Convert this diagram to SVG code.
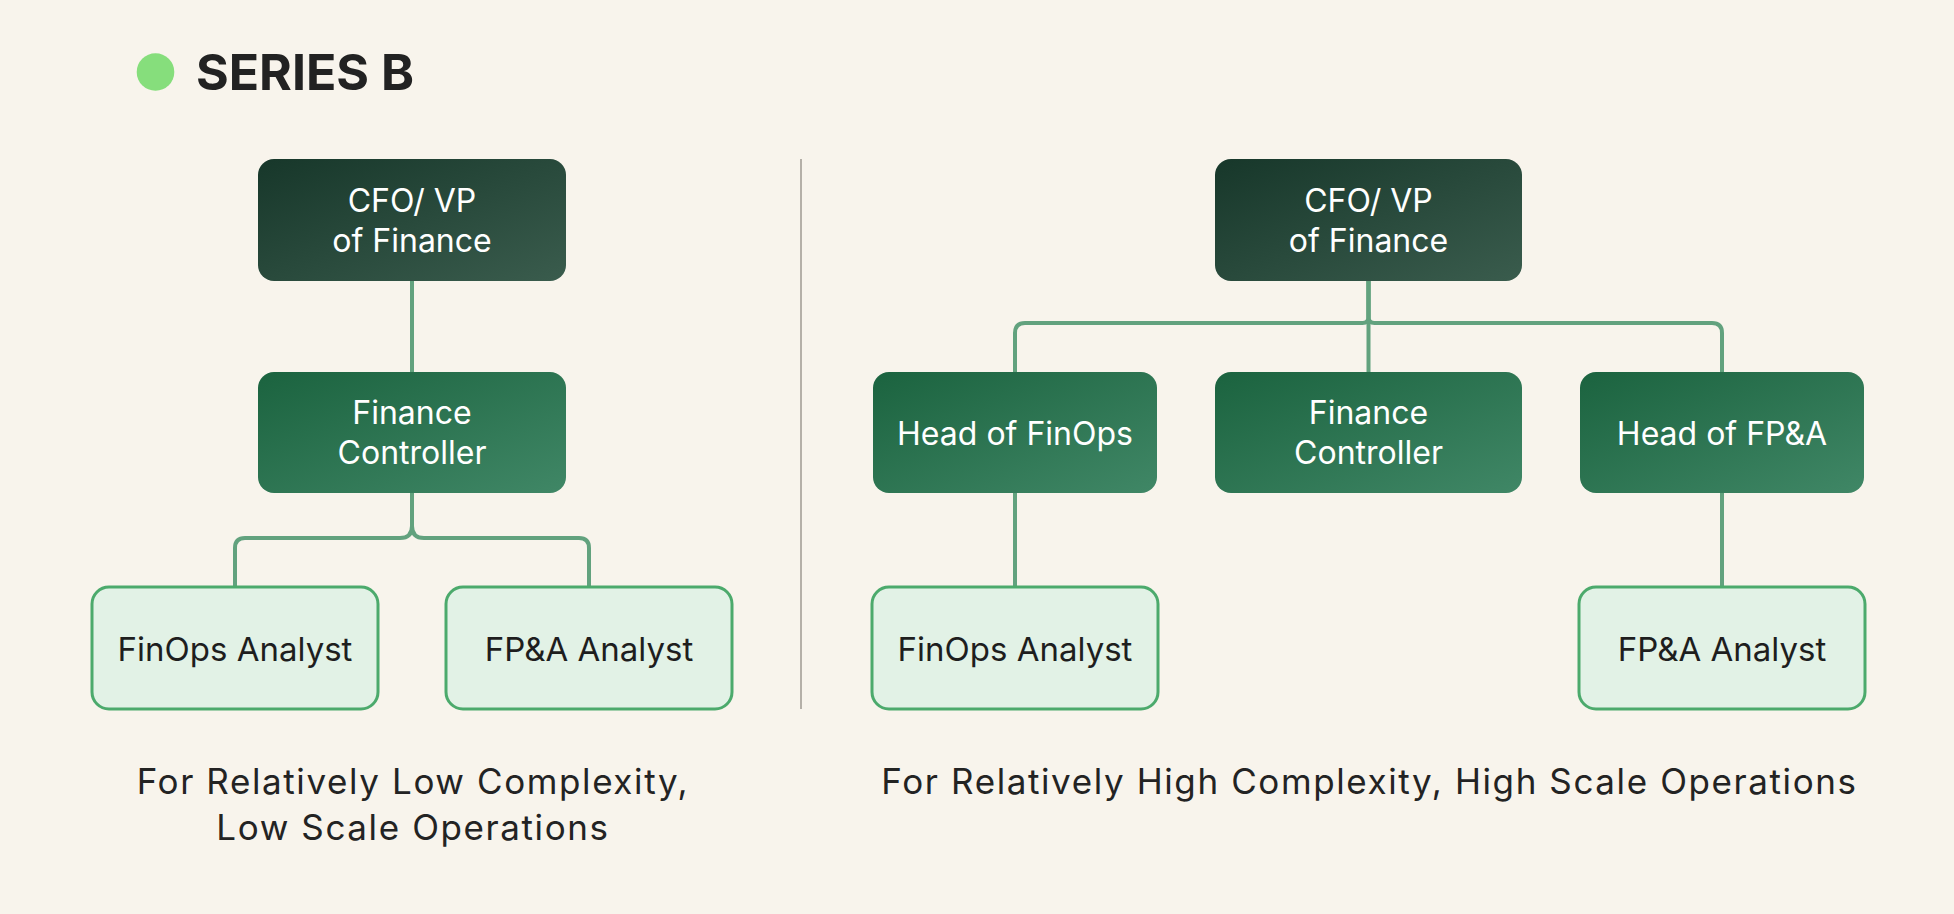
<svg xmlns="http://www.w3.org/2000/svg" width="1954" height="914" viewBox="0 0 1954 914">
  <defs>
    <linearGradient id="gDark" x1="0" y1="0" x2="1" y2="1">
      <stop offset="0" stop-color="#17372a"/>
      <stop offset="1" stop-color="#3a5c4d"/>
    </linearGradient>
    <linearGradient id="gMid" x1="0" y1="0" x2="1" y2="1">
      <stop offset="0" stop-color="#1b633f"/>
      <stop offset="1" stop-color="#408766"/>
    </linearGradient>
    <style>
      .dark { fill: url(#gDark); }
      .mid { fill: url(#gMid); }
      .light { fill: #e2f2e6; stroke: #4caa6c; stroke-width: 3; }
      .wt { font-family: Inter, "Liberation Sans", sans-serif; font-size: 32px; fill: #ffffff; text-anchor: middle; }
      .bt { font-family: Inter, "Liberation Sans", sans-serif; font-size: 33px; fill: #1e1e1e; text-anchor: middle; }
      .cap { font-family: Inter, "Liberation Sans", sans-serif; font-size: 35px; letter-spacing: 1.6px; fill: #232323; text-anchor: middle; }
      .conn { fill: none; stroke: #62a27e; stroke-width: 4; }
    </style>
  </defs>
  <rect width="1954" height="914" fill="#f8f4ec"/>

  <g id="title">
    <circle cx="155.5" cy="72" r="18.8" fill="#86de7c"/>
    <text x="196" y="90" font-family="Inter, 'Liberation Sans', sans-serif" font-size="50" font-weight="700" fill="#222222">SERIES B</text>
  </g>

  <line id="divider" x1="801" y1="159" x2="801" y2="709" stroke="#b5b0a8" stroke-width="2"/>

  <g id="connectors">
    <path class="conn" d="M412 281 V372"/>
    <path class="conn" d="M412 493 V526 Q412 538 400 538 H245 Q235 538 235 548 V587"/>
    <path class="conn" d="M412 493 V526 Q412 538 424 538 H579 Q589 538 589 548 V587"/>
    <path class="conn" d="M1368.5 281 V372"/>
    <path class="conn" d="M1368.5 281 V317 Q1368.5 323 1362.5 323 H1025 Q1015 323 1015 333 V372"/>
    <path class="conn" d="M1368.5 281 V317 Q1368.5 323 1374.5 323 H1712 Q1722 323 1722 333 V372"/>
    <path class="conn" d="M1015 493 V587"/>
    <path class="conn" d="M1722 493 V587"/>
  </g>

  <g id="left-cfo">
    <rect class="dark" x="258" y="159" width="308" height="122" rx="16"/>
    <text class="wt" x="412" y="212">CFO/ VP</text>
    <text class="wt" x="412" y="252">of Finance</text>
  </g>
  <g id="left-controller">
    <rect class="mid" x="258" y="372" width="308" height="121" rx="16"/>
    <text class="wt" x="412" y="424">Finance</text>
    <text class="wt" x="412" y="464">Controller</text>
  </g>
  <g id="left-finops-analyst">
    <rect class="light" x="92" y="587" width="286" height="122" rx="17"/>
    <text class="bt" x="235" y="661">FinOps Analyst</text>
  </g>
  <g id="left-fpa-analyst">
    <rect class="light" x="446" y="587" width="286" height="122" rx="17"/>
    <text class="bt" x="589" y="661">FP&amp;A Analyst</text>
  </g>

  <g id="right-cfo">
    <rect class="dark" x="1215" y="159" width="307" height="122" rx="16"/>
    <text class="wt" x="1368.5" y="212">CFO/ VP</text>
    <text class="wt" x="1368.5" y="252">of Finance</text>
  </g>
  <g id="right-head-finops">
    <rect class="mid" x="873" y="372" width="284" height="121" rx="16"/>
    <text class="wt" x="1015" y="445">Head of FinOps</text>
  </g>
  <g id="right-controller">
    <rect class="mid" x="1215" y="372" width="307" height="121" rx="16"/>
    <text class="wt" x="1368.5" y="424">Finance</text>
    <text class="wt" x="1368.5" y="464">Controller</text>
  </g>
  <g id="right-head-fpa">
    <rect class="mid" x="1580" y="372" width="284" height="121" rx="16"/>
    <text class="wt" x="1722" y="445">Head of FP&amp;A</text>
  </g>
  <g id="right-finops-analyst">
    <rect class="light" x="872" y="587" width="286" height="122" rx="17"/>
    <text class="bt" x="1015" y="661">FinOps Analyst</text>
  </g>
  <g id="right-fpa-analyst">
    <rect class="light" x="1579" y="587" width="286" height="122" rx="17"/>
    <text class="bt" x="1722" y="661">FP&amp;A Analyst</text>
  </g>

  <g id="captions">
    <text class="cap" x="413" y="794">For Relatively Low Complexity,</text>
    <text class="cap" x="413" y="840">Low Scale Operations</text>
    <text class="cap" x="1369.5" y="794">For Relatively High Complexity, High Scale Operations</text>
  </g>
</svg>
